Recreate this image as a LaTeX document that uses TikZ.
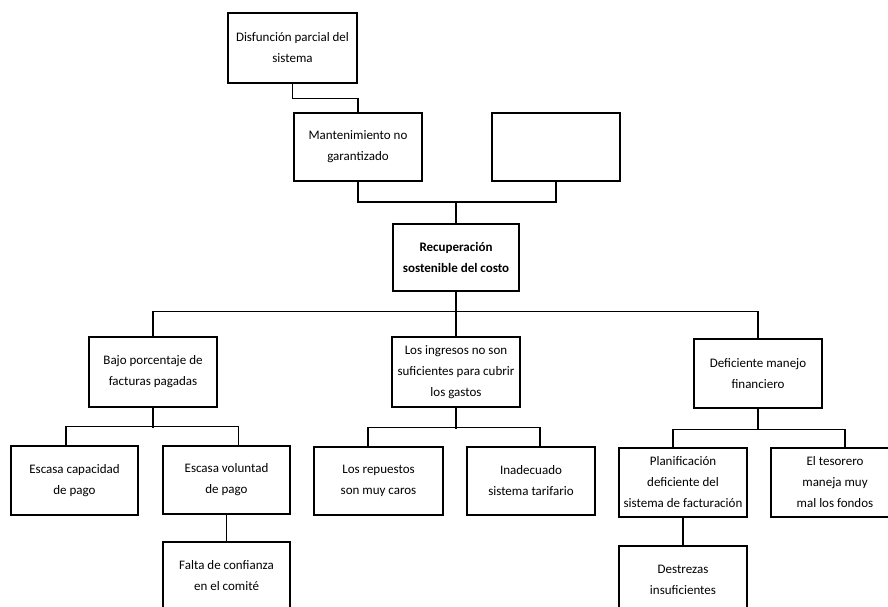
\documentclass[tikz,border=0pt]{standalone}
\usepackage{fontspec}
\setmainfont{Carlito}
\begin{document}
\begin{tikzpicture}[x=1pt,y=-1pt,
  box/.style={draw,line width=1.4pt,minimum width=128pt,minimum height=69pt,inner sep=2pt,align=center,font=\fontsize{13}{21}\selectfont},
  mainbox/.style={box,line width=2.6pt,minimum width=126pt,minimum height=67pt,font=\fontsize{13}{21}\selectfont\bfseries},
  link/.style={line width=1.4pt}]
\clip (0,0) rectangle (888,606);
\fill[white] (0,0) rectangle (888,606);
% upper part
\node[box,minimum width=129pt,minimum height=70pt] (dis) at (292.5,48) {Disfunción parcial del\\sistema};
\node[box,minimum height=68pt] (mant) at (358,147) {Mantenimiento no\\garantizado};
\node[box,minimum height=68pt] (vacio) at (556,147) {};
\node[mainbox] (rec) at (456,257.5) {Recuperación\\sostenible del costo};
\coordinate (topbus) at (456,202);
\draw[link] (dis.south) -- ++(0,15) -| (mant.north);
\draw[link] (mant.south) |- (topbus) -| (vacio.south);
\draw[link] (rec.north) -- (topbus);
% second level
\node[box,minimum height=70pt] (bajo) at (153,372) {Bajo porcentaje de\\facturas pagadas};
\node[box,minimum height=70pt] (ing) at (456,372) {Los ingresos no son\\suficientes para cubrir\\los gastos};
\node[box] (def) at (758,373.5) {Deficiente manejo\\financiero};
\draw[link] (bajo.north) -- ++(0,-25) -| (def.north);
\draw[link] (rec.south) -- (ing.north);
% third level
\node[box,minimum width=127pt] (cap) at (74.5,480.5) {Escasa capacidad\\de pago};
\node[box,minimum width=127pt,minimum height=68pt] (vol) at (226.5,480) {Escasa voluntad\\de pago};
\node[box,minimum width=129pt,minimum height=68pt] (rep) at (378.5,481) {Los repuestos\\son muy caros};
\node[box,minimum height=68pt] (tar) at (531,481) {Inadecuado\\sistema tarifario};
\node[box] (pla) at (683,482.5) {Planificación\\deficiente del\\sistema de facturación};
\node[box] (tes) at (835,482.5) {El tesorero\\maneja muy\\mal los fondos};
\draw[link] (bajo.south) -- ++(0,20);
\draw[link] ([xshift=-8.5pt]cap.north) -- ++(0,-19) -| ([xshift=12pt]vol.north);
\draw[link] (ing.south) -- ++(0,21);
\draw[link] ([xshift=-10.5pt]rep.north) -- ++(0,-19) -| ([xshift=9pt]tar.north);
\draw[link] (def.south) -- ++(0,21.5);
\draw[link] ([xshift=-10pt]pla.north) -- ++(0,-18) -| ([xshift=10pt]tes.north);
% fourth level
\node[box,minimum width=127pt,minimum height=68pt] (con) at (226.5,576) {Falta de confianza\\en el comité};
\node[box,minimum height=68pt] (des) at (683,580) {Destrezas\\insuficientes};
\draw[link] (vol.south) -- (con.north);
\draw[link] (pla.south) -- (des.north);
\end{tikzpicture}
\end{document}
